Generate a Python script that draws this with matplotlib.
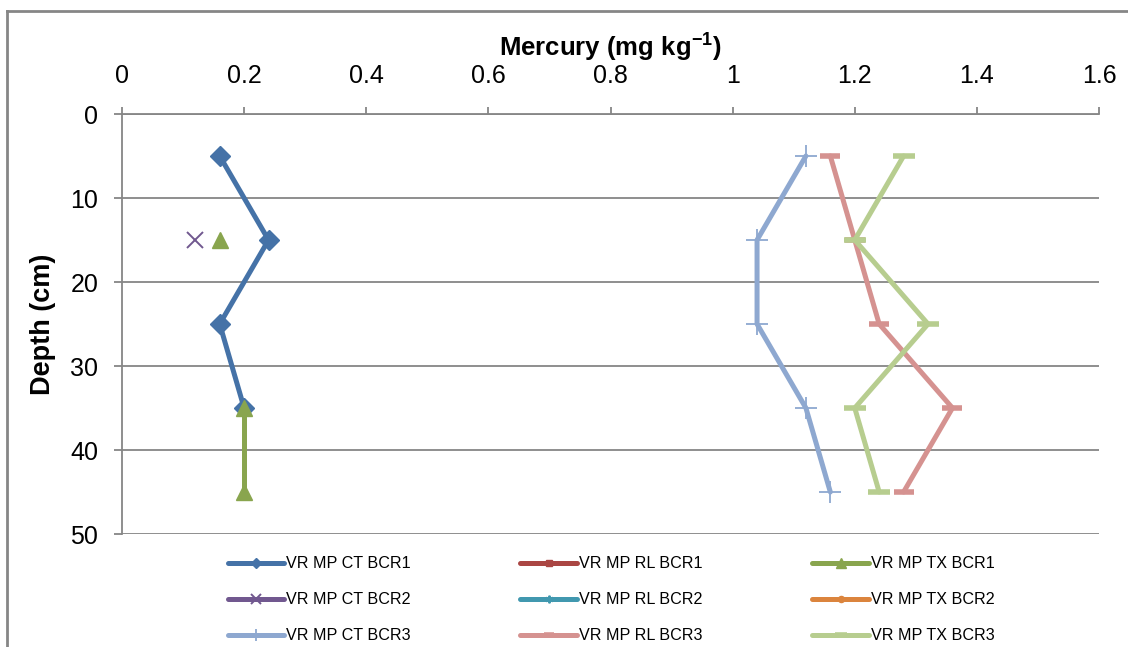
import numpy as np
import matplotlib
matplotlib.use("Agg")
import matplotlib.pyplot as plt
from matplotlib.lines import Line2D

plt.rcParams['font.family'] = ['Liberation Sans', 'DejaVu Sans']
plt.rcParams['mathtext.fontset'] = 'custom'
plt.rcParams['mathtext.rm'] = 'Liberation Sans'
plt.rcParams['mathtext.bf'] = 'Liberation Sans:bold'

nan = np.nan

# Sampling depths (cm)
depths = [5, 15, 25, 35, 45]

# Mercury concentrations (mg/kg) per site/treatment/replicate
ct_bcr1 = [0.16, 0.24, 0.16, 0.20, nan]
rl_bcr1 = [nan, nan, nan, nan, nan]
tx_bcr1 = [nan, 0.16, nan, 0.20, 0.20]
ct_bcr2 = [nan, 0.12, nan, nan, nan]
rl_bcr2 = [nan, nan, nan, nan, nan]
tx_bcr2 = [nan, nan, nan, nan, nan]
ct_bcr3 = [1.12, 1.04, 1.04, 1.12, 1.16]
rl_bcr3 = [1.16, 1.20, 1.24, 1.36, 1.28]
tx_bcr3 = [1.28, 1.20, 1.32, 1.20, 1.24]

labels = ["VR MP CT BCR1", "VR MP RL BCR1", "VR MP TX BCR1",
          "VR MP CT BCR2", "VR MP RL BCR2", "VR MP TX BCR2",
          "VR MP CT BCR3", "VR MP RL BCR3", "VR MP TX BCR3"]
series = [ct_bcr1, rl_bcr1, tx_bcr1, ct_bcr2, rl_bcr2, tx_bcr2,
          ct_bcr3, rl_bcr3, tx_bcr3]

x_ticks = [0, 0.2, 0.4, 0.6, 0.8, 1, 1.2, 1.4, 1.6]
x_tick_labels = ["0", "0.2", "0.4", "0.6", "0.8", "1", "1.2", "1.4", "1.6"]
y_ticks = [0, 10, 20, 30, 40, 50]

styles = [
    dict(color="#4572A7", marker="D", ms=10, mew=1),
    dict(color="#AA4643", marker="s", ms=9, mew=1),
    dict(color="#89A54E", marker="^", ms=12, mew=1),
    dict(color="#71588F", marker="x", ms=12, mew=1.4),
    dict(color="#4198AF", marker=(6, 2, 0), ms=10, mew=1.4),
    dict(color="#DB843D", marker="o", ms=8, mew=1),
    dict(color="#8EA8D0", marker="+", ms=16, mew=1.3),
    dict(color="#D59290", marker="_", ms=14, mew=4),
    dict(color="#B7CD8F", marker="_", ms=16, mew=4),
]

fig = plt.figure(figsize=(11.28, 6.47), dpi=100)
ax = fig.add_axes([122 / 1128, 1 - 534 / 647, (1099 - 122) / 1128, (534 - 114) / 647])

grey = "#868686"
for vals, lab, st in zip(series, labels, styles):
    ax.plot(vals, depths, lw=3.6, label=lab, color=st["color"],
            marker=st["marker"], markersize=st["ms"], markeredgewidth=st["mew"],
            markerfacecolor=st["color"], markeredgecolor=st["color"],
            solid_capstyle="round", clip_on=False, zorder=3)

ax.set_xlim(0, 1.6)
ax.set_ylim(50, 0)
ax.set_xticks(x_ticks)
ax.set_xticklabels(x_tick_labels)
ax.set_yticks(y_ticks)
ax.xaxis.tick_top()
ax.xaxis.set_label_position('top')
ax.tick_params(axis='x', direction='out', length=5, width=1.3, color=grey,
               labelsize=18, pad=14)
ax.tick_params(axis='y', direction='out', length=6, width=1.3, color=grey,
               labelsize=18, pad=11)
ax.grid(axis='y', color=grey, lw=1.3, zorder=0)
ax.set_axisbelow(True)
for side in ("right", "bottom"):
    ax.spines[side].set_visible(False)
for side in ("top", "left"):
    ax.spines[side].set_color(grey)
    ax.spines[side].set_linewidth(1.3)

ax.set_xlabel(r"Mercury (mg kg$^{\mathbf{-1}}$)", fontsize=18.5, fontweight="bold", labelpad=6)
ax.set_ylabel("Depth (cm)", fontsize=19.5, fontweight="bold", labelpad=10)

# legend filled row by row: three entries per row
handles, labs = ax.get_legend_handles_labels()
order = [0, 3, 6, 1, 4, 7, 2, 5, 8]
leg = fig.legend([handles[i] for i in order], [labs[i] for i in order],
                 ncol=3, loc="upper left",
                 bbox_to_anchor=(213 / 1128, 1 - 542 / 647),
                 frameon=False, fontsize=11.6, handlelength=3.5, handletextpad=0.15,
                 columnspacing=6.8, labelspacing=1.3, numpoints=1,
                 markerscale=0.55)

# chart area border
fig.add_artist(Line2D([7 / 1128, 7 / 1128], [0, 1 - 11 / 647], color=grey, lw=2,
                      transform=fig.transFigure))
fig.add_artist(Line2D([7 / 1128, 1], [1 - 11 / 647, 1 - 11 / 647], color=grey, lw=2,
                      transform=fig.transFigure))

fig.savefig("out.png", dpi=100)
